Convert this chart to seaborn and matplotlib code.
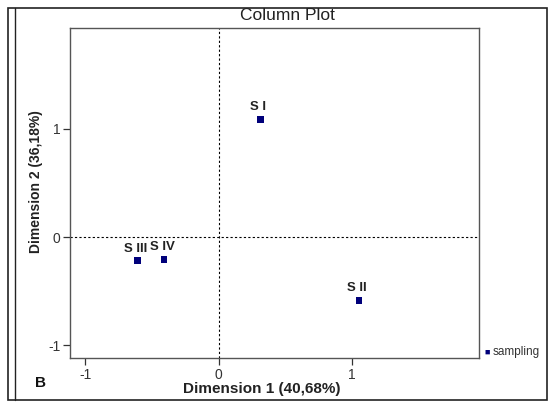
import matplotlib
matplotlib.use("Agg")
import matplotlib.pyplot as plt
import seaborn as sns
import pandas as pd
from matplotlib.patches import Rectangle

# Correspondence analysis coordinates of the sampling campaigns
samples = ["S I", "S II", "S III", "S IV"]
dim1 = [0.31, 1.05, -0.61, -0.41]
dim2 = [1.09, -0.59, -0.22, -0.21]
group = ["sampling"] * 4

x_ticks = [-1, 0, 1]
y_ticks = [-1, 0, 1]

df = pd.DataFrame({"Dimension 1": dim1, "Dimension 2": dim2,
                   "label": samples, "group": group})

sns.set_theme(style="white")
plt.rcParams["font.family"] = ["Liberation Sans", "DejaVu Sans"]
plt.rcParams["axes.unicode_minus"] = False

fig = plt.figure(figsize=(5.5, 4.05), dpi=100)
W, H = 550, 405
ax = fig.add_axes([70 / W, 1 - 358 / H, (479 - 70) / W, (358 - 28) / H])

sns.scatterplot(data=df, x="Dimension 1", y="Dimension 2", hue="group",
                palette=["#00007a"], marker="s", s=24, edgecolor="none",
                ax=ax, legend=False, zorder=3)

ax.axhline(0, color="black", lw=0.8, ls=(0, (2, 2)), zorder=1)
ax.axvline(0, color="black", lw=0.8, ls=(0, (2, 2)), zorder=1)

for xv, yv, lab in zip(dim1, dim2, samples):
    ax.annotate(lab, (xv, yv), xytext=(-1.5, 4.5), textcoords="offset points",
                ha="center", va="bottom", fontsize=9.5, fontweight="bold",
                color="#222222")

ax.set_xlim(-1.115, 1.95)
ax.set_ylim(-1.12, 1.935)
ax.set_xticks(x_ticks)
ax.set_yticks(y_ticks)
ax.tick_params(axis="both", direction="out", length=5, width=0.9,
               colors="#333333", labelsize=10, pad=2, bottom=True, left=True)
for sp in ax.spines.values():
    sp.set_color("#555555")
    sp.set_linewidth(1.0)

ax.set_xlabel("")
ax.set_ylabel("")
fig.text(262 / W, 1 - 389 / H, "Dimension 1 (40,68%)", fontsize=11,
         fontweight="bold", color="#222222", ha="center", va="center")
fig.text(36 / W, 1 - 182 / H, "Dimension 2 (36,18%)", fontsize=10,
         fontweight="bold", color="#222222", ha="center", va="center",
         rotation=90)

# Legend entry outside the plot area
fig.text(484 / W, 1 - 352 / H, "\u25a0", color="#00007a", fontsize=6.5,
         ha="left", va="center")
fig.text(493 / W, 1 - 352 / H, "sampling", color="#333333", fontsize=8.5,
         ha="left", va="center")

fig.text(287 / W, 1 - 15 / H, "Column Plot", fontsize=12.5, ha="center",
         va="center", color="#222222")
fig.text(40 / W, 1 - 383 / H, "B", fontsize=11, fontweight="bold",
         ha="center", va="center", color="#111111")

# Outer frame with doubled left edge
fig.patches.append(Rectangle((8 / W, 1 - 400 / H), (547 - 8) / W, (400 - 8) / H,
                             transform=fig.transFigure, fill=False,
                             edgecolor="#222222", lw=1.2))
fig.lines.append(plt.Line2D([15 / W, 15 / W], [1 - 400 / H, 1 - 8 / H],
                            transform=fig.transFigure, color="#222222", lw=1.0))

fig.savefig("out.png", dpi=100)
